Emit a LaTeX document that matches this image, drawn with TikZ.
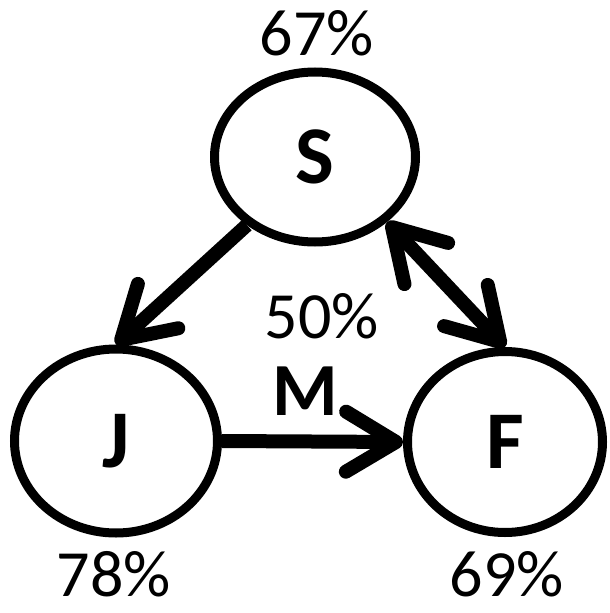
\documentclass[tikz,border=0pt]{standalone}
\usepackage{fontspec}
\setmainfont{Carlito}
\usetikzlibrary{arrows.meta,shapes.geometric}
\begin{document}
\begin{tikzpicture}[x=1pt,y=-1pt,
  state/.style={draw, line width=9pt, ellipse, inner sep=0pt, font=\bfseries\fontsize{82}{90}\selectfont},
  pct/.style={inner sep=0pt, font=\fontsize{66}{70}\selectfont},
  lbl/.style={inner sep=0pt, font=\bfseries\fontsize{75}{80}\selectfont},
  tip/.tip={Straight Barb[length=50pt,width=60pt,round]},
  arr/.style={line width=14pt, -tip},
  darr/.style={line width=14pt, tip-tip}
]
\fill[white] (0,0) rectangle (610,613);
\useasboundingbox (0,0) rectangle (610,613);
\node[state, minimum width=201pt, minimum height=170pt] (S) at (315,157) {S};
\node[state, minimum width=203pt, minimum height=184pt] (J) at (116,441) {J};
\node[state, minimum width=195pt, minimum height=181pt] (F) at (505,442) {F};
\node[pct] (pS) at (317,33) {67\%};
\node[pct] (pM) at (322,316) {50\%};
\node[lbl] (M) at (305,391) {M};
\node[pct] (pJ) at (114,574) {78\%};
\node[pct] (pF) at (507,574) {69\%};
\draw[arr] (S.225) -- (J.north);
\draw[darr] (S.318) -- (F.north);
\draw[arr] (J.east) -- (F.west);
\end{tikzpicture}
\end{document}
